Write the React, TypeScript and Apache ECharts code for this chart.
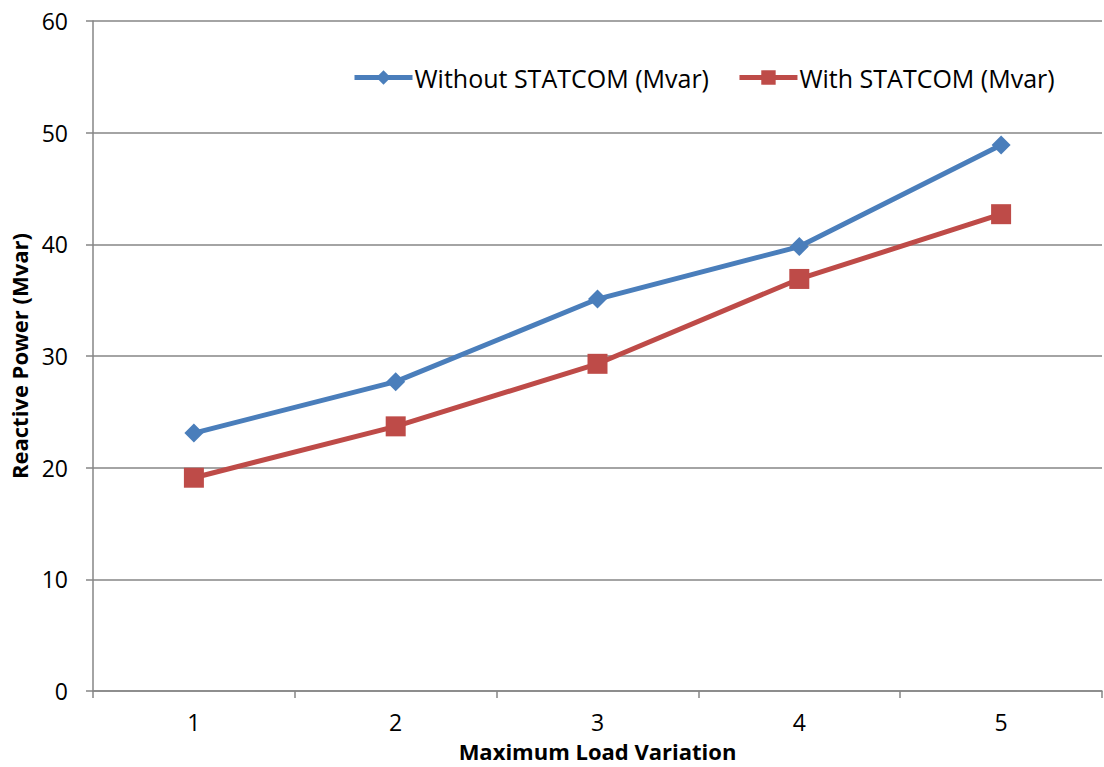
import React, { useEffect, useRef } from "react";
import * as echarts from "echarts";

const categories = ["1", "2", "3", "4", "5"];
const withoutStatcom = [23.1, 27.7, 35.1, 39.8, 48.9];
const withStatcom = [19.1, 23.7, 29.3, 36.9, 42.7];
const seriesNames = ["Without STATCOM (Mvar)", "With STATCOM (Mvar)"];

const FONT = "'Open Sans', 'Liberation Sans', sans-serif";

export default function App() {
  const ref = useRef<HTMLDivElement>(null);
  useEffect(() => {
    const chart = echarts.init(ref.current!, null, { renderer: "svg" });
    chart.setOption({
      animation: false,
      backgroundColor: "#ffffff",
      textStyle: { fontFamily: FONT },
      grid: { left: 93, right: 2, top: 21, bottom: 75 },
      legend: {
        top: 60,
        left: 347,
        itemWidth: 58,
        itemHeight: 18,
        itemGap: 28,
        lineStyle: { width: 5 },
        textStyle: { fontSize: 25, color: "#000", fontFamily: FONT, padding: [0, 0, 0, -3] },
        data: seriesNames,
      },
      xAxis: {
        type: "category",
        data: categories,
        boundaryGap: true,
        name: "Maximum Load Variation",
        nameLocation: "middle",
        nameGap: 49,
        nameTextStyle: { fontSize: 22, fontWeight: "bold", color: "#000", fontFamily: FONT },
        axisLine: { lineStyle: { color: "#868686", width: 1.5 } },
        axisTick: { show: true, length: 7, alignWithLabel: false, lineStyle: { color: "#868686", width: 1.5 } },
        axisLabel: { fontSize: 23, color: "#000", margin: 19, fontFamily: FONT },
      },
      yAxis: {
        type: "value",
        min: 0,
        max: 60,
        interval: 10,
        name: "Reactive Power (Mvar)",
        nameLocation: "middle",
        nameGap: 63,
        nameTextStyle: { fontSize: 22, fontWeight: "bold", color: "#000", fontFamily: FONT },
        axisLine: { show: true, lineStyle: { color: "#868686", width: 1.5 } },
        axisTick: { show: true, length: 7, lineStyle: { color: "#868686", width: 1.5 } },
        axisLabel: { fontSize: 23, color: "#000", margin: 25, fontFamily: FONT },
        splitLine: { lineStyle: { color: "#868686", width: 1.5 } },
      },
      series: [
        {
          name: seriesNames[0],
          type: "line",
          data: withoutStatcom,
          symbol: "diamond",
          symbolSize: 19,
          lineStyle: { color: "#4a7ebb", width: 5 },
          itemStyle: { color: "#4a7ebb" },
        },
        {
          name: seriesNames[1],
          type: "line",
          data: withStatcom,
          symbol: "rect",
          symbolSize: 20,
          lineStyle: { color: "#be4b48", width: 5 },
          itemStyle: { color: "#be4b48" },
        },
      ],
    });
    return () => chart.dispose();
  }, []);
  return <div ref={ref} style={{ width: 1104, height: 767, position: "absolute", left: 0, top: 0 }} />;
}
